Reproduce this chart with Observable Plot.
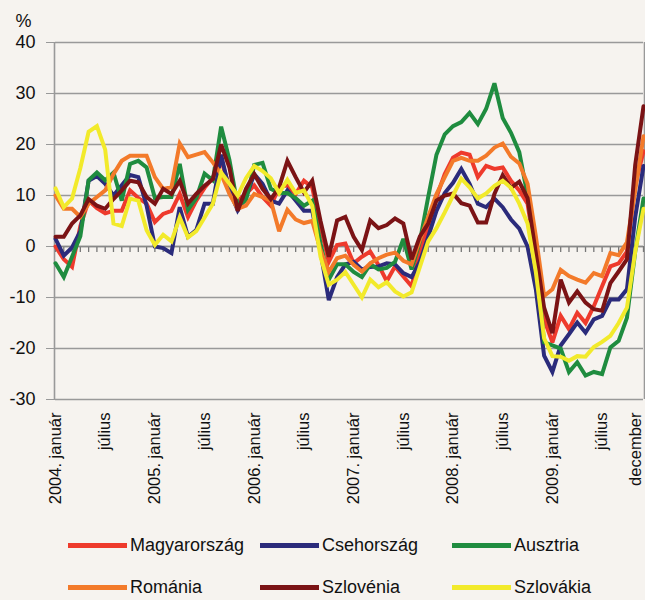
<!DOCTYPE html>
<html>
<head>
<meta charset="utf-8">
<script src="https://cdn.jsdelivr.net/npm/d3@7"></script>
<script src="https://cdn.jsdelivr.net/npm/@observablehq/plot@0.6"></script>
<style>
  html, body { margin: 0; padding: 0; background: #f6f3ef; }
  #wrap { width: 645px; height: 600px; position: relative; background: #f6f3ef; overflow: hidden;
          font-family: "Liberation Sans Narrow", "Arial Narrow", "Liberation Sans", Arial, sans-serif; }
  .legend { position: absolute; left: 68px; top: 524px; width: 590px; }
  .row { display: flex; height: 42px; align-items: center; }
  .item { width: 192px; display: flex; align-items: center; font-size: 18px; color: #111; }
  .sw { width: 59px; height: 5px; margin-right: 3px; }
</style>
</head>
<body>
<div id="wrap"></div>
<script>
// Monthly index 0 = 2004 január ... 71 = 2009 december
const months = d3.range(72);

const seriesNames = ["Magyarország", "Csehország", "Ausztria", "Románia", "Szlovénia", "Szlovákia"];
const seriesColors = ["#ee3a2c", "#2b2b7b", "#1f8c3f", "#f37a2a", "#7b1315", "#f2ea2b"];

const magyarorszag = [0,-2.5,-4,4,9,7.5,6.5,7,7,11,
  9.5,8.4,4.8,6.4,7,10.3,5.8,9,11.5,13.5,
  17,11.6,9,10.3,12,9.7,8,11.6,12,10.3,
  12.9,11.6,3.9,-3,0.3,0.6,-3.3,-2,-1,-3.6,
  -6.8,-3.9,-5.9,-7.8,-1,4,9.7,14.2,17.4,18.4,
  18,13.6,15.8,15.2,15.5,12.9,11,8.4,-2,-14.3,
  -18.8,-13.6,-16.2,-13,-15,-11.7,-7.8,-3.9,-3.3,-1,
  12,18.7];
const csehorszag = [1.5,-1.8,-0.2,3,12.9,13.8,12.3,10,12,14,
  13.6,8,0,-0.3,-1.3,7.7,1.9,3.2,8.4,8.4,
  18,11,7.1,9.7,14.2,12.3,9,8.4,11,9,
  7,7,-1,-10.5,-6,-3.5,-3,-4.5,-4,-3.9,
  -3.3,-3.5,-5.2,-6,-3,1.9,7,10.5,12.5,15.2,
  12.3,8.4,7.7,9.4,7.7,5.3,3.5,0,-8.4,-21.4,
  -24.6,-19.4,-17.2,-14.9,-16.9,-14.3,-13.6,-10.4,-10.4,-8.4,
  5.8,15.8];
const ausztria = [-3.3,-6,-2,2,13,14.5,13,14.5,9,16.2,
  16.8,15.5,9.5,9.7,9.7,16.2,7.2,9.5,14.3,13,
  23.5,17,8,9,16,16.4,11.3,10.5,10.5,9.5,
  8,9,0.6,-6.5,-3.5,-3.5,-5,-6,-3.5,-4.5,
  -4.2,-3,1.5,-4.5,1,9.7,18,22,23.6,24.4,
  26.2,24,27,32,25.2,22.3,18.5,10,-2,-18.8,
  -19.4,-20,-24.6,-22.7,-25.3,-24.6,-25,-19.8,-18.5,-14,
  -1,9.4];
const romania = [10,7.4,7.4,5.8,8.4,9.7,11,14.2,16.8,17.8,
  17.8,17.8,13.6,11.3,11.6,20.2,17.5,18,18.5,16.5,
  14.2,10.3,7.4,8,10.3,9.7,9,3,7.2,5.3,
  4.6,5,-0.7,-5,-2.3,-1.8,-3.6,-4.9,-3.3,-2.3,
  -1.6,-1.2,-2.8,-3.5,1.3,5.8,10.3,13.6,16.8,17.4,
  16.8,16.8,17.8,19.4,20.2,17.6,16.3,12.3,2,-9.7,
  -8.4,-4.6,-5.8,-6.5,-7.1,-5.2,-5.8,-1.3,-1.7,0.8,
  11,21.6];
const szlovenia = [1.9,1.9,4.5,6.1,9.3,8,7.4,9.3,11,12.9,
  12.6,9.7,8.4,11.3,10.3,12.9,8.4,10.3,11.9,13.2,
  20,15.5,7,11.3,14.2,11.3,9.3,11.6,16.8,13.6,
  10.6,12.9,5,-2,5.1,5.8,1.9,-0.7,5.1,3.6,
  4.2,5.5,4.5,-2.5,2,4.5,9,10,10.4,8.5,
  8,4.7,4.7,10.3,14,11.5,12.7,9.5,-1.3,-12,
  -17,-6.5,-11,-8.8,-11,-12.3,-12.6,-7.2,-4.9,-2.5,
  16,27.5];
const szlovakia = [11.4,7.7,9.4,15.4,22.5,23.6,19,4.5,4,9.4,
  9,3.2,0.3,2.3,1,5.7,1.8,3,5.7,8.4,
  14.5,12.3,10,13.4,15.8,14.8,13.4,10.5,13.1,10.5,
  11,8,-2,-7.5,-6.5,-5,-7.5,-10,-6.5,-8,
  -7,-8.8,-9.8,-9,-4,1,3.6,6.7,10,13.3,
  11.6,9.4,10.4,11.9,12.9,11.5,8.4,4.5,-5,-18,
  -21.5,-21.6,-22.4,-21.5,-21.6,-19.7,-18.7,-17.5,-15,-12,
  -1,7.4];

const seriesValues = [magyarorszag, csehorszag, ausztria, romania, szlovenia, szlovakia];

const yTicks = [-30, -20, -10, 0, 10, 20, 30, 40];
const xLabelIdx = [0, 6, 12, 18, 24, 30, 36, 42, 48, 54, 60, 66];
const xLabelText = ["2004. január", "július", "2005. január", "július", "2006. január", "július",
                    "2007. január", "július", "2008. január", "július", "2009. január", "július"];
const lastLabelIdx = [71];
const lastLabelText = ["december"];

const rows = [];
seriesNames.forEach((name, s) => {
  seriesValues[s].forEach((v, i) => rows.push({ name, i: months[i], v }));
});

const FONT = '"Liberation Sans Narrow", "Arial Narrow", "Liberation Sans", Arial, sans-serif';

const chart = Plot.plot({
  width: 645,
  height: 525,
  marginTop: 42,
  marginBottom: 126,
  marginLeft: 55,
  marginRight: 2,
  style: { background: "transparent", fontFamily: FONT, color: "#111", overflow: "visible" },
  x: { domain: [0, 71], axis: null },
  y: { domain: [-30, 40], axis: null },
  color: { domain: seriesNames, range: seriesColors },
  marks: [
    Plot.gridY(yTicks, { stroke: "#999", strokeOpacity: 1, strokeWidth: 1.6 }),
    Plot.ruleX([0], { x: () => 0, dx: -1, stroke: "#999", strokeWidth: 1.6 }),
    Plot.ruleX([71], { x: () => 71, dx: 1, stroke: "#999", strokeWidth: 1.6 }),
    Plot.ruleX(months, { x: d => d, y1: () => 0, y2: () => 0, insetBottom: -6, stroke: "#777", strokeWidth: 1.3 }),
    Plot.ruleY([0], { stroke: "#888", strokeWidth: 1.6 }),
    Plot.axisY({ ticks: yTicks, tickSize: 9, tickPadding: 11, fontSize: 18, label: null, stroke: "#999", tickFormat: d => String(d) }),
    Plot.line(rows, { x: "i", y: "v", z: "name", stroke: "name", strokeWidth: 4, strokeLinejoin: "miter", strokeMiterlimit: 3 }),
    Plot.text(xLabelIdx, { x: d => d, text: (d, j) => xLabelText[j], frameAnchor: "bottom", dy: 13, rotate: -90, textAnchor: "end", lineAnchor: "middle", fontSize: 16.5, fill: "#111" }),
    Plot.text(lastLabelIdx, { x: d => d, text: (d, j) => lastLabelText[j], frameAnchor: "bottom", dy: 13, dx: -8, rotate: -90, textAnchor: "end", lineAnchor: "middle", fontSize: 16.5, fill: "#111" }),
    Plot.text(["%"], { frameAnchor: "top-left", dx: -40, dy: -28, textAnchor: "start", fontSize: 18, fill: "#111" })
  ]
});

const wrap = document.getElementById("wrap");
wrap.appendChild(chart);

const legend = document.createElement("div");
legend.className = "legend";
for (let r = 0; r < 2; r++) {
  const row = document.createElement("div");
  row.className = "row";
  for (let c = 0; c < 3; c++) {
    const k = r * 3 + c;
    const item = document.createElement("div");
    item.className = "item";
    const sw = document.createElement("span");
    sw.className = "sw";
    sw.style.background = seriesColors[k];
    const label = document.createElement("span");
    label.textContent = seriesNames[k];
    item.appendChild(sw);
    item.appendChild(label);
    row.appendChild(item);
  }
  legend.appendChild(row);
}
wrap.appendChild(legend);
</script>
</body>
</html>
